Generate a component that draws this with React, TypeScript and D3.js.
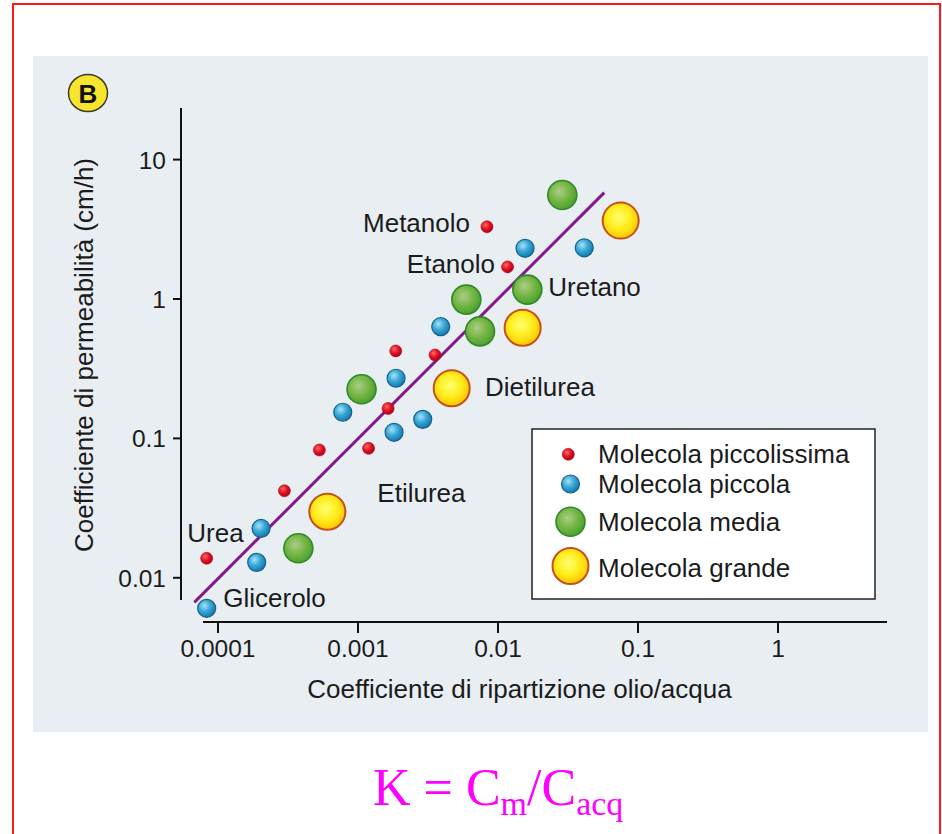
import React from 'react'
import * as d3 from 'd3'

// axis ticks
const xTicks = [0.0001, 0.001, 0.01, 0.1, 1]
const xTickLabels = ['0.0001', '0.001', '0.01', '0.1', '1']
const yTicks = [0.01, 0.1, 1, 10]
const yTickLabels = ['0.01', '0.1', '1', '10']

// molecola piccolissima
const tinyX = [0.000083, 0.000298, 0.00053, 0.00119, 0.00164, 0.00186, 0.00355, 0.0117, 0.00834]
const tinyY = [0.0138, 0.0421, 0.0826, 0.0849, 0.164, 0.424, 0.397, 1.7, 3.3]
// molecola piccola
const smallX = [0.000083, 0.000203, 0.000189, 0.000778, 0.00187, 0.00181, 0.0029, 0.0039, 0.0156, 0.0413]
const smallY = [0.00604, 0.0226, 0.0129, 0.154, 0.27, 0.1106, 0.137, 0.633, 2.31, 2.33]
// molecola media
const mediumX = [0.000375, 0.00106, 0.00594, 0.00744, 0.0162, 0.0288]
const mediumY = [0.0163, 0.225, 0.99, 0.586, 1.168, 5.57]
// molecola grande
const largeX = [0.000604, 0.00467, 0.015, 0.0752]
const largeY = [0.0298, 0.229, 0.622, 3.65]

// regression line ends
const fitX = [0.0000677, 0.0574]
const fitY = [0.00667, 5.79]

// compound names, placed in data space
const labelNames = ['Metanolo', 'Etanolo', 'Uretano', 'Dietilurea', 'Etilurea', 'Urea', 'Glicerolo']
const labelX = [0.00631, 0.00952, 0.02287, 0.00808, 0.001374, 0.0000604, 0.000109]
const labelY = [3.024, 1.544, 1.051, 0.2014, 0.0351, 0.01815, 0.00614]
const labelAnchor = ['end', 'end', 'start', 'start', 'start', 'start', 'start']

const legendNames = ['Molecola piccolissima', 'Molecola piccola', 'Molecola media', 'Molecola grande']

const font = 'Liberation Sans, Arial, Helvetica, sans-serif'
const ink = '#1b1b1b'

const kinds = [
  { id: 'tiny', r: 6, stroke: '#b0061a', sw: 0.6 },
  { id: 'small', r: 9, stroke: '#15658f', sw: 1.2 },
  { id: 'medium', r: 14.5, stroke: '#2f8a28', sw: 1.6 },
  { id: 'large', r: 18, stroke: '#c4521c', sw: 2 },
]

function Dot({ cx, cy, kind }: { cx: number; cy: number; kind: number }) {
  const k = kinds[kind]
  return <circle cx={cx} cy={cy} r={k.r} fill={`url(#g-${k.id})`} stroke={k.stroke} strokeWidth={k.sw} />
}

export default function App() {
  const x = d3.scaleLog().domain([0.0001, 1]).range([218, 778])
  const y = d3.scaleLog().domain([0.01, 10]).range([577.8, 159.6])

  const series = [
    d3.zip(tinyX, tinyY),
    d3.zip(smallX, smallY),
    d3.zip(mediumX, mediumY),
    d3.zip(largeX, largeY),
  ]
  const line = d3.line<number[]>().x(d => x(d[0])).y(d => y(d[1]))

  const legendY = [454.3, 484, 521.7, 566]
  const legendTextY = [462.7, 493.3, 531, 576.7]

  return (
    <svg width={942} height={834} style={{ position: 'absolute', left: 0, top: 0, display: 'block' }}>
      <defs>
        <radialGradient id="g-tiny" cx="38%" cy="35%" r="65%">
          <stop offset="0%" stopColor="#ff6a5a" />
          <stop offset="55%" stopColor="#de1226" />
          <stop offset="100%" stopColor="#b3001a" />
        </radialGradient>
        <radialGradient id="g-small" cx="38%" cy="35%" r="65%">
          <stop offset="0%" stopColor="#a6e2f6" />
          <stop offset="50%" stopColor="#3aa9d8" />
          <stop offset="100%" stopColor="#1878ad" />
        </radialGradient>
        <radialGradient id="g-medium" cx="40%" cy="38%" r="65%">
          <stop offset="0%" stopColor="#a9cf82" />
          <stop offset="55%" stopColor="#74b444" />
          <stop offset="100%" stopColor="#47a02c" />
        </radialGradient>
        <radialGradient id="g-large" cx="45%" cy="42%" r="60%">
          <stop offset="0%" stopColor="#ffff70" />
          <stop offset="55%" stopColor="#ffec1a" />
          <stop offset="100%" stopColor="#ffc200" />
        </radialGradient>
      </defs>

      <rect x={0} y={0} width={942} height={834} fill="#fff" />
      <rect x={13} y={4} width={927} height={840} fill="none" stroke="#ff1a1a" strokeWidth={2} />
      <rect x={33} y={56} width={895} height={676} fill="#e8eef2" />

      {/* badge */}
      <ellipse cx={88} cy={93} rx={19.5} ry={18.5} fill="#f6e52c" stroke="#3a3a2a" strokeWidth={1.5} />
      <text x={88} y={102.5} textAnchor="middle" fontFamily={font} fontWeight="bold" fontSize={26} fill="#111">B</text>

      {/* axes */}
      <line x1={181} x2={181} y1={108} y2={600} stroke="#111" strokeWidth={2} />
      <line x1={203} x2={887} y1={622} y2={622} stroke="#111" strokeWidth={2} />
      {yTicks.map((t, i) => (
        <g key={t}>
          <line x1={173} x2={181} y1={y(t)} y2={y(t)} stroke="#111" strokeWidth={2} />
          <text x={166} y={y(t) + 9} textAnchor="end" fontFamily={font} fontSize={24.5} fill={ink}>{yTickLabels[i]}</text>
        </g>
      ))}
      {xTicks.map((t, i) => (
        <g key={t}>
          <line x1={x(t)} x2={x(t)} y1={622} y2={633} stroke="#111" strokeWidth={2} />
          <text x={x(t)} y={656.7} textAnchor="middle" fontFamily={font} fontSize={24.5} fill={ink}>{xTickLabels[i]}</text>
        </g>
      ))}
      <text x={519.5} y={698} textAnchor="middle" fontFamily={font} fontSize={26} fill={ink}>
        Coefficiente di ripartizione olio/acqua
      </text>
      <text transform="translate(93,355) rotate(-90)" textAnchor="middle" fontFamily={font} fontSize={26} fill={ink}>
        Coefficiente di permeabilità (cm/h)
      </text>

      {/* fit line */}
      <path d={line(d3.zip(fitX, fitY)) || ''} stroke="#84198a" strokeWidth={3} fill="none" />

      {/* points */}
      {series.map((pts, k) => pts.map((d, i) => <Dot key={k + '-' + i} cx={x(d[0])} cy={y(d[1])} kind={k} />))}

      {/* compound labels */}
      {labelNames.map((n, i) => (
        <text key={n} x={x(labelX[i])} y={y(labelY[i])} textAnchor={labelAnchor[i] as any} fontFamily={font} fontSize={26} fill={ink}>{n}</text>
      ))}

      {/* legend */}
      <rect x={532} y={429} width={343} height={170} fill="#fff" stroke="#222" strokeWidth={1.5} />
      {legendNames.map((n, i) => (
        <g key={n}>
          <Dot cx={i === 0 ? 568.3 : 570.5} cy={legendY[i]} kind={i} />
          <text x={598} y={legendTextY[i]} fontFamily={font} fontSize={26} fill={ink}>{n}</text>
        </g>
      ))}

      {/* formula */}
      <text x={373} y={805} fontFamily="Liberation Serif, 'Times New Roman', serif" fontSize={52} fill="#ff00ff">
        K = C<tspan fontSize={34} dy={10}>m</tspan><tspan dy={-10}>/C</tspan><tspan fontSize={34} dy={10}>acq</tspan>
      </text>
    </svg>
  )
}
